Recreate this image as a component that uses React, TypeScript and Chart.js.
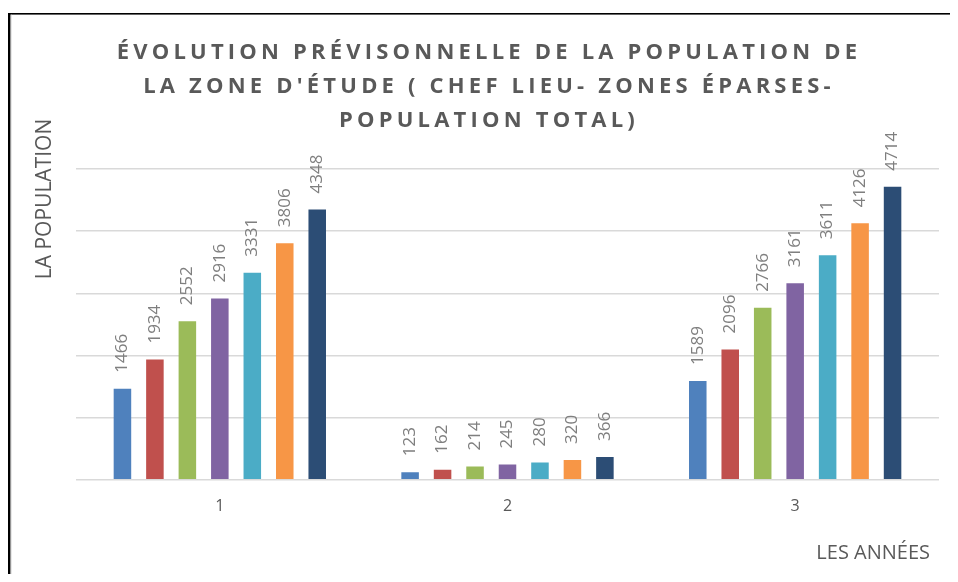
import React, { useEffect, useRef } from "react";
import { Chart, registerables } from "chart.js";

Chart.register(...registerables);

const categories = ["1", "2", "3"];
const seriesNames = ["Série 1", "Série 2", "Série 3", "Série 4", "Série 5", "Série 6", "Série 7"];
const serie1 = [1466, 123, 1589];
const serie2 = [1934, 162, 2096];
const serie3 = [2552, 214, 2766];
const serie4 = [2916, 245, 3161];
const serie5 = [3331, 280, 3611];
const serie6 = [3806, 320, 4126];
const serie7 = [4348, 366, 4714];
const seriesValues = [serie1, serie2, serie3, serie4, serie5, serie6, serie7];
const seriesColors = ["#4F81BD", "#C0504D", "#9BBB59", "#8064A2", "#4BACC6", "#F79646", "#2C4D75"];

const titleLines = [
  "ÉVOLUTION PRÉVISONNELLE DE LA POPULATION DE",
  "LA ZONE D'ÉTUDE ( CHEF LIEU- ZONES ÉPARSES-",
  "POPULATION TOTAL)",
];
const yTitle = "LA POPULATION";
const xTitle = "LES ANNÉES";

const decorPlugin = {
  id: "decor",
  afterDraw(chart: any) {
    const ctx = chart.ctx as CanvasRenderingContext2D;
    const w = chart.width;
    const h = chart.height;
    ctx.save();
    // frame
    ctx.fillStyle = "#000000";
    ctx.fillRect(0, 5, w, 1.6);
    ctx.fillRect(0, 5, 2.6, h);
    ctx.fillStyle = "#d9d9d9";
    ctx.fillRect(2.6, 6.6, 1, h);

    // title
    ctx.fillStyle = "#595959";
    ctx.font = "bold 22px 'Open Sans'";
    (ctx as any).letterSpacing = "4.2px";
    ctx.textAlign = "center";
    ctx.textBaseline = "middle";
    titleLines.forEach((line, i) => {
      ctx.fillText(line, 481, 45 + i * 34);
    });
    (ctx as any).letterSpacing = "0px";

    // y title
    ctx.save();
    ctx.translate(37, 191);
    ctx.rotate(-Math.PI / 2);
    ctx.font = "21px 'Open Sans'";
    ctx.fillStyle = "#595959";
    ctx.textAlign = "center";
    ctx.textBaseline = "middle";
    ctx.fillText(yTitle, 0, 0);
    ctx.restore();

    // x title
    ctx.font = "20px 'Open Sans'";
    ctx.fillStyle = "#595959";
    ctx.textAlign = "right";
    ctx.textBaseline = "middle";
    ctx.fillText(xTitle, 922, 545);

    // data labels
    ctx.font = "17px 'Open Sans'";
    ctx.fillStyle = "#7f7f7f";
    chart.data.datasets.forEach((ds: any, di: number) => {
      const meta = chart.getDatasetMeta(di);
      meta.data.forEach((bar: any, i: number) => {
        const v = ds.data[i];
        ctx.save();
        ctx.translate(bar.x, bar.y - 16);
        ctx.rotate(-Math.PI / 2);
        ctx.textAlign = "left";
        ctx.textBaseline = "middle";
        ctx.fillText(String(v), 0, 0);
        ctx.restore();
      });
    });
    ctx.restore();
  },
};

export default function App() {
  const ref = useRef<HTMLCanvasElement | null>(null);
  useEffect(() => {
    if (!ref.current) return;
    const chart = new Chart(ref.current, {
      type: "bar",
      data: {
        labels: categories,
        datasets: seriesValues.map((vals, i) => ({
          label: seriesNames[i],
          data: vals,
          backgroundColor: seriesColors[i],
          borderWidth: 0,
          categoryPercentage: 0.79,
          barPercentage: 0.54,
        })),
      },
      options: {
        animation: false,
        responsive: true,
        maintainAspectRatio: false,
        layout: { padding: { left: 68, right: 11, top: 161, bottom: 41 } },
        plugins: {
          legend: { display: false },
          title: { display: false },
          tooltip: { enabled: false },
        },
        scales: {
          x: {
            grid: { display: false, drawTicks: false },
            border: { display: false },
            ticks: {
              color: "#595959",
              font: { family: "'Open Sans'", size: 16 },
              padding: 17,
            },
          },
          y: {
            min: 0,
            max: 5000,
            ticks: { display: false, stepSize: 1000 },
            grid: { color: "#d9d9d9", lineWidth: 1.5, drawTicks: false },
            border: { display: false },
          },
        },
      },
      plugins: [decorPlugin],
    });
    return () => chart.destroy();
  }, []);
  return (
    <div style={{ width: 942, height: 566, position: "relative" }}>
      <canvas ref={ref} />
    </div>
  );
}
